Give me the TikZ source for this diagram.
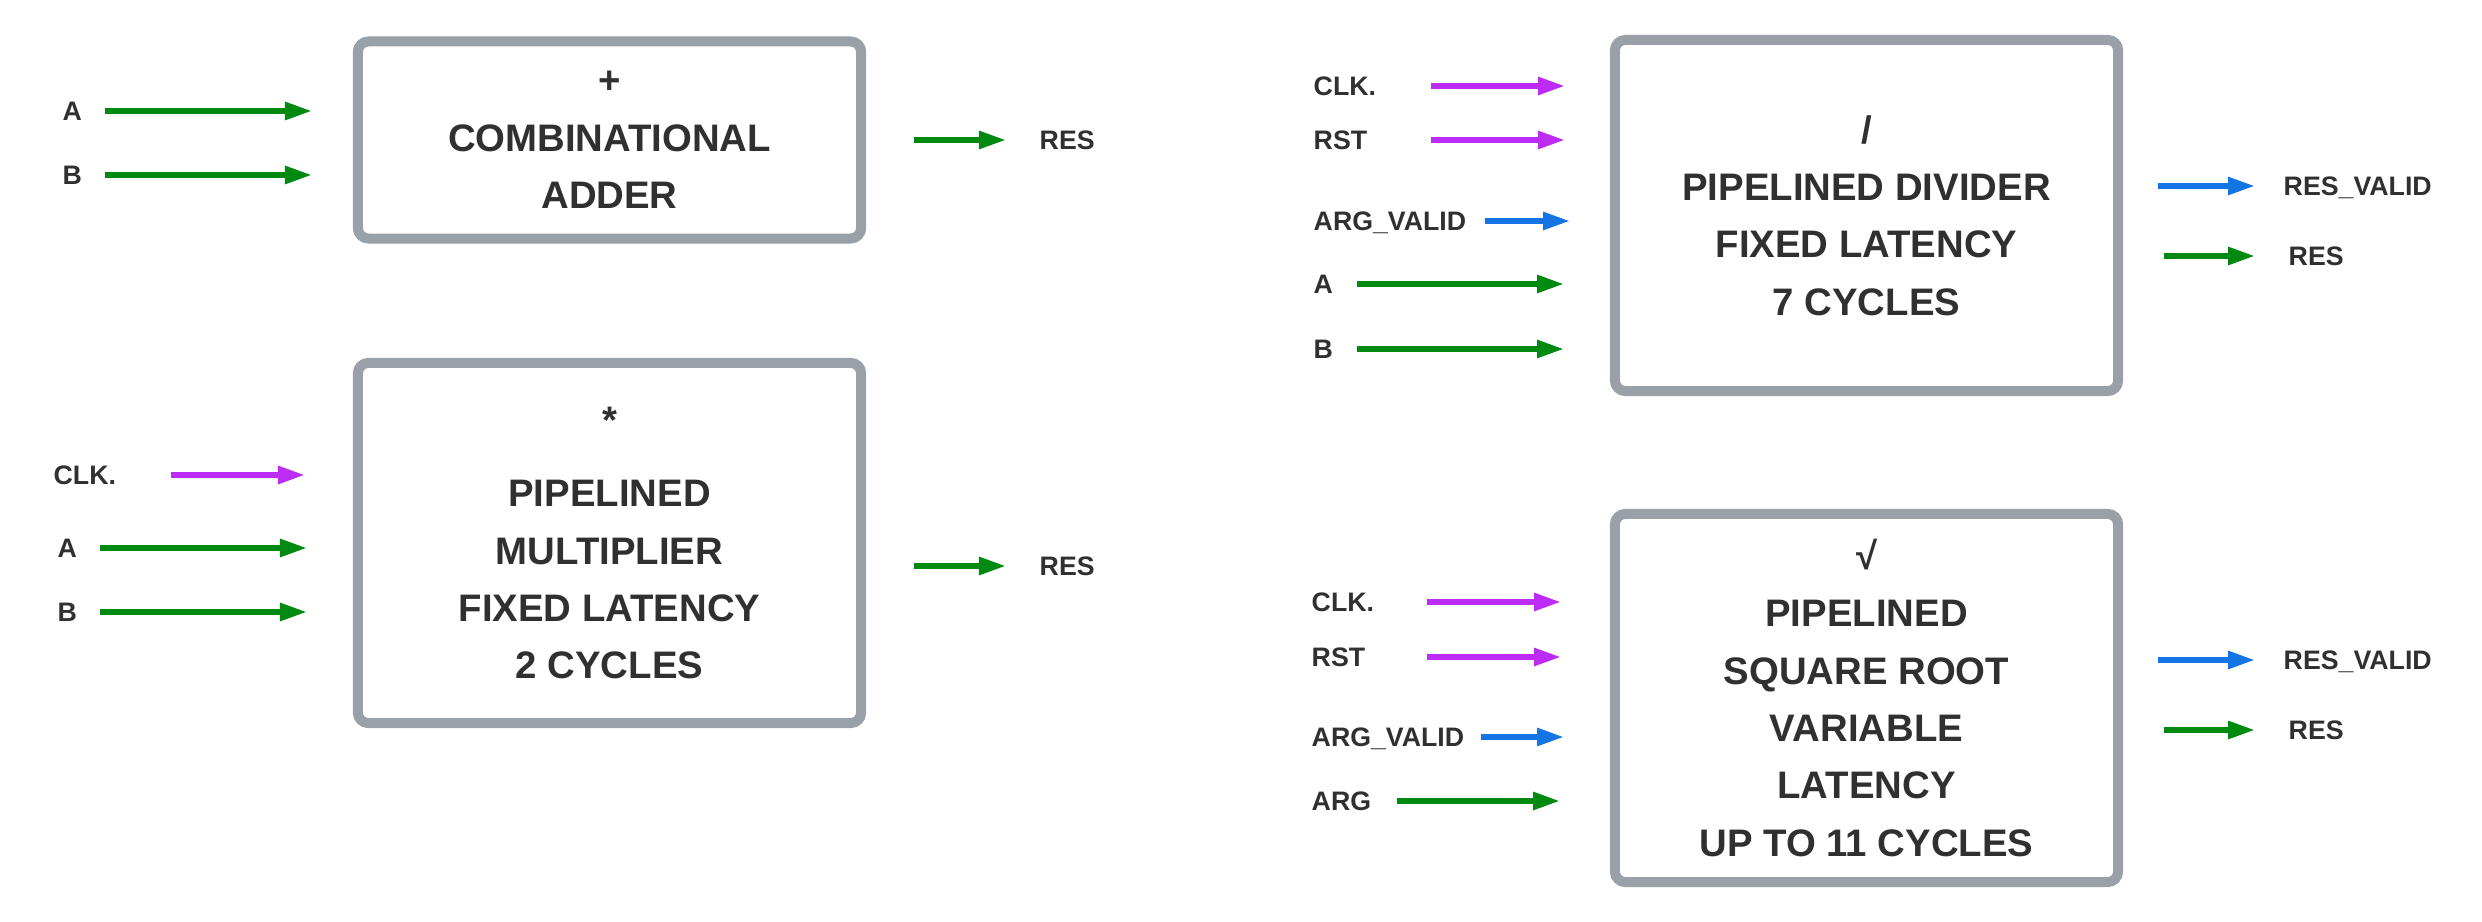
\documentclass[tikz,border=0pt]{standalone}
\usepackage{fontspec}
\setmainfont{Liberation Sans}
\usetikzlibrary{arrows.meta}

\definecolor{boxgray}{HTML}{9AA0A8}
\definecolor{clkpurple}{HTML}{BC2CF4}
\definecolor{validblue}{HTML}{1474E4}
\definecolor{datagreen}{HTML}{008A12}
\definecolor{ink}{HTML}{303030}

\def\Add{Add}
\def\Mul{Mul}
\def\Div{Div}
\def\Sqrt{Sqrt}

\begin{document}
\begin{tikzpicture}[x=0.01cm,y=-0.01cm,
  every node/.style={text=ink},
  unit/.style={draw=boxgray,line width=2.85pt,rounded corners=3pt,
    minimum width=5.03cm,align=center,
    font=\bfseries\fontsize{10.9}{16.3}\selectfont},
  port/.style={anchor=west,inner sep=0pt,text height=5.4pt,text depth=0pt,
    font=\bfseries\fontsize{7.6}{9}\selectfont},
  sig/.style={line width=1.62pt,-{Triangle[length=0.27cm,width=0.17cm]}},]

\useasboundingbox (0,0) rectangle (2482,922);

% Units
\node[unit,minimum height=1.97cm] (\Add) at (609.5,140)
  {+\\COMBINATIONAL\\ADDER};
\node[unit,minimum height=3.60cm] (\Mul) at (609.5,543)
  {*\\[4.6pt]PIPELINED\\MULTIPLIER\\FIXED LATENCY\\2 CYCLES};
\node[unit,minimum height=3.51cm] (\Div) at (1866.5,215.5)
  {/\\PIPELINED DIVIDER\\FIXED LATENCY\\7 CYCLES};
\node[unit,minimum height=3.68cm] (\Sqrt) at (1866.5,698)
  {√\\PIPELINED\\SQUARE ROOT\\VARIABLE\\LATENCY\\UP TO 11 CYCLES};

% Port labels
\fill
  (62,111) node[port] (\Add A) {A}
  (62,175) node[port] (\Add B) {B}
  (1039,140) node[port] (\Add Res) {RES}
  (53,475) node[port] (\Mul Clk) {CLK.}
  (57,548) node[port] (\Mul A) {A}
  (57,612) node[port] (\Mul B) {B}
  (1039,566) node[port] (\Mul Res) {RES}
  (1313,86) node[port] (\Div Clk) {CLK.}
  (1313,140) node[port] (\Div Rst) {RST}
  (1313,221) node[port] (\Div Valid) {ARG\_VALID}
  (1313,284) node[port] (\Div A) {A}
  (1313,349) node[port] (\Div B) {B}
  (2283,186) node[port] (\Div Res Valid) {RES\_VALID}
  (2288,256) node[port] (\Div Res) {RES}
  (1311,602) node[port] (\Sqrt Clk) {CLK.}
  (1311,657) node[port] (\Sqrt Rst) {RST}
  (1311,737) node[port] (\Sqrt Valid) {ARG\_VALID}
  (1311,801) node[port] (\Sqrt Arg) {ARG}
  (2283,660) node[port] (\Sqrt Res Valid) {RES\_VALID}
  (2288,730) node[port] (\Sqrt Res) {RES};

% Flow end points
\path
  (105,111) coordinate (\Add A 0) (312,111) coordinate (\Add A 1)
  (105,175) coordinate (\Add B 0) (312,175) coordinate (\Add B 1)
  (914,140) coordinate (\Add Res 0) (1006,140) coordinate (\Add Res 1)
  (171,475) coordinate (\Mul Clk 0) (305,475) coordinate (\Mul Clk 1)
  (100,548) coordinate (\Mul A 0) (307,548) coordinate (\Mul A 1)
  (100,612) coordinate (\Mul B 0) (307,612) coordinate (\Mul B 1)
  (914,566) coordinate (\Mul Res 0) (1006,566) coordinate (\Mul Res 1)
  (1431,86) coordinate (\Div Clk 0) (1565,86) coordinate (\Div Clk 1)
  (1431,140) coordinate (\Div Rst 0) (1565,140) coordinate (\Div Rst 1)
  (1485,221) coordinate (\Div Valid 0) (1570,221) coordinate (\Div Valid 1)
  (1357,284) coordinate (\Div A 0) (1564,284) coordinate (\Div A 1)
  (1357,349) coordinate (\Div B 0) (1564,349) coordinate (\Div B 1)
  (2158,186) coordinate (\Div Res Valid 0) (2255,186) coordinate (\Div Res Valid 1)
  (2164,256) coordinate (\Div Res 0) (2255,256) coordinate (\Div Res 1)
  (1427,602) coordinate (\Sqrt Clk 0) (1561,602) coordinate (\Sqrt Clk 1)
  (1427,657) coordinate (\Sqrt Rst 0) (1561,657) coordinate (\Sqrt Rst 1)
  (1481,737) coordinate (\Sqrt Valid 0) (1564,737) coordinate (\Sqrt Valid 1)
  (1397,801) coordinate (\Sqrt Arg 0) (1560,801) coordinate (\Sqrt Arg 1)
  (2158,660) coordinate (\Sqrt Res Valid 0) (2255,660) coordinate (\Sqrt Res Valid 1)
  (2164,730) coordinate (\Sqrt Res 0) (2255,730) coordinate (\Sqrt Res 1);

% Clock and reset flows
\draw [sig,draw=clkpurple,fill=clkpurple] (\Mul Clk 0) -- (\Mul Clk 1);
\draw [sig,draw=clkpurple,fill=clkpurple] (\Div Clk 0) -- (\Div Clk 1);
\draw [sig,draw=clkpurple,fill=clkpurple] (\Div Rst 0) -- (\Div Rst 1);
\draw [sig,draw=clkpurple,fill=clkpurple] (\Sqrt Clk 0) -- (\Sqrt Clk 1);
\draw [sig,draw=clkpurple,fill=clkpurple] (\Sqrt Rst 0) -- (\Sqrt Rst 1);

% Valid flows
\draw [sig,draw=validblue,fill=validblue] (\Div Valid 0) -- (\Div Valid 1);
\draw [sig,draw=validblue,fill=validblue] (\Div Res Valid 0) -- (\Div Res Valid 1);
\draw [sig,draw=validblue,fill=validblue] (\Sqrt Valid 0) -- (\Sqrt Valid 1);
\draw [sig,draw=validblue,fill=validblue] (\Sqrt Res Valid 0) -- (\Sqrt Res Valid 1);

% Data flows
\draw [sig,draw=datagreen,fill=datagreen] (\Add A 0) -- (\Add A 1);
\draw [sig,draw=datagreen,fill=datagreen] (\Add B 0) -- (\Add B 1);
\draw [sig,draw=datagreen,fill=datagreen] (\Add Res 0) -- (\Add Res 1);
\draw [sig,draw=datagreen,fill=datagreen] (\Mul A 0) -- (\Mul A 1);
\draw [sig,draw=datagreen,fill=datagreen] (\Mul B 0) -- (\Mul B 1);
\draw [sig,draw=datagreen,fill=datagreen] (\Mul Res 0) -- (\Mul Res 1);
\draw [sig,draw=datagreen,fill=datagreen] (\Div A 0) -- (\Div A 1);
\draw [sig,draw=datagreen,fill=datagreen] (\Div B 0) -- (\Div B 1);
\draw [sig,draw=datagreen,fill=datagreen] (\Div Res 0) -- (\Div Res 1);
\draw [sig,draw=datagreen,fill=datagreen] (\Sqrt Arg 0) -- (\Sqrt Arg 1);
\draw [sig,draw=datagreen,fill=datagreen] (\Sqrt Res 0) -- (\Sqrt Res 1);

\end{tikzpicture}
\end{document}
